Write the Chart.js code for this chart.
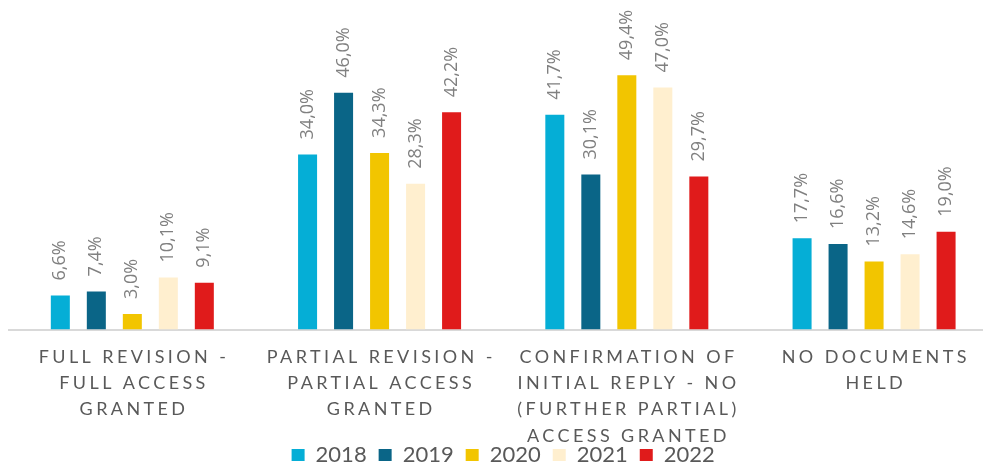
<!DOCTYPE html>
<html>
<head>
<meta charset="utf-8">
<script src="https://cdn.jsdelivr.net/npm/chart.js@4.4.1/dist/chart.umd.min.js"></script>
<style>
  html, body { margin: 0; padding: 0; overflow: hidden; background: #fff; }
  #wrap { width: 983px; height: 464px; overflow: hidden; }
</style>
</head>
<body>
<div id="wrap"><canvas id="grafico" width="1000" height="476"></canvas></div>
<script>
// categorias (rótulos em várias linhas)
var categorias = [
    ["FULL REVISION -", "FULL ACCESS", "GRANTED"],
    ["PARTIAL REVISION -", "PARTIAL ACCESS", "GRANTED"],
    ["CONFIRMATION OF", "INITIAL REPLY - NO", "(FURTHER PARTIAL)", "ACCESS GRANTED"],
    ["NO DOCUMENTS", "HELD"]
];
var anos = ["2018", "2019", "2020", "2021", "2022"];
var valores2018 = [6.6, 34.0, 41.7, 17.7];
var valores2019 = [7.4, 46.0, 30.1, 16.6];
var valores2020 = [3.0, 34.3, 49.4, 13.2];
var valores2021 = [10.1, 28.3, 47.0, 14.6];
var valores2022 = [9.1, 42.2, 29.7, 19.0];

var cores = ['#05AED6', '#0A6587', '#F2C500', '#FFEFCF', '#E01B1B'];
var series = [valores2018, valores2019, valores2020, valores2021, valores2022];

// rótulos de valor rodados por cima das barras
var rotulosValores = {
    id: 'rotulosValores',
    afterDatasetsDraw: function(chart) {
        var ctx = chart.ctx;
        ctx.save();
        ctx.font = '18px "Open Sans"';
        ctx.fillStyle = '#808080';
        ctx.textAlign = 'left';
        ctx.textBaseline = 'middle';
        chart.data.datasets.forEach(function(ds, i) {
            chart.getDatasetMeta(i).data.forEach(function(bar, j) {
                var texto = ds.data[j].toFixed(1).replace('.', ',') + '%';
                ctx.save();
                ctx.translate(bar.x, bar.y - 15);
                ctx.rotate(-Math.PI / 2);
                ctx.fillText(texto, 0, 0);
                ctx.restore();
            });
        });
        ctx.restore();
    }
};

// rótulos do eixo x com espaçamento entre letras
var rotulosEixo = {
    id: 'rotulosEixo',
    afterDraw: function(chart) {
        var ctx = chart.ctx;
        var escala = chart.scales.x;
        ctx.save();
        ctx.font = '18px Lato';
        ctx.letterSpacing = '3.4px';
        ctx.fillStyle = '#595959';
        ctx.textAlign = 'center';
        ctx.textBaseline = 'middle';
        categorias.forEach(function(linhas, i) {
            var x = escala.getPixelForTick(i) + 1.7;
            linhas.forEach(function(linha, k) {
                ctx.fillText(linha, x, chart.chartArea.bottom + 27.5 + k * 26.3);
            });
        });
        ctx.restore();
    }
};

var ctx1 = document.getElementById("grafico").getContext("2d");
var grafico = new Chart(ctx1, {
    type: 'bar',
    data: {
        labels: categorias.map(function(c) { return c.join(' '); }),
        datasets: series.map(function(valores, i) {
            return {
                label: anos[i],
                data: valores,
                backgroundColor: cores[i],
                borderWidth: 0,
                barPercentage: 0.528,
                categoryPercentage: 0.728
            };
        })
    },
    options: {
        responsive: false,
        animation: false,
        layout: {
            padding: { left: 8.7, right: 2.3, top: 0, bottom: 0 }
        },
        scales: {
            x: {
                grid: { display: false },
                border: { display: true, color: '#D9D9D9', width: 2 },
                ticks: { display: false },
                afterFit: function(scale) { scale.height = 102.5; }
            },
            y: {
                display: false,
                min: 0,
                max: 64
            }
        },
        plugins: {
            legend: {
                display: true,
                position: 'bottom',
                labels: {
                    boxWidth: 13,
                    boxHeight: 12,
                    padding: 12,
                    color: '#595959',
                    font: { size: 22, family: 'Lato' }
                }
            },
            tooltip: { enabled: false }
        }
    },
    plugins: [rotulosValores, rotulosEixo]
});
</script>
</body>
</html>
